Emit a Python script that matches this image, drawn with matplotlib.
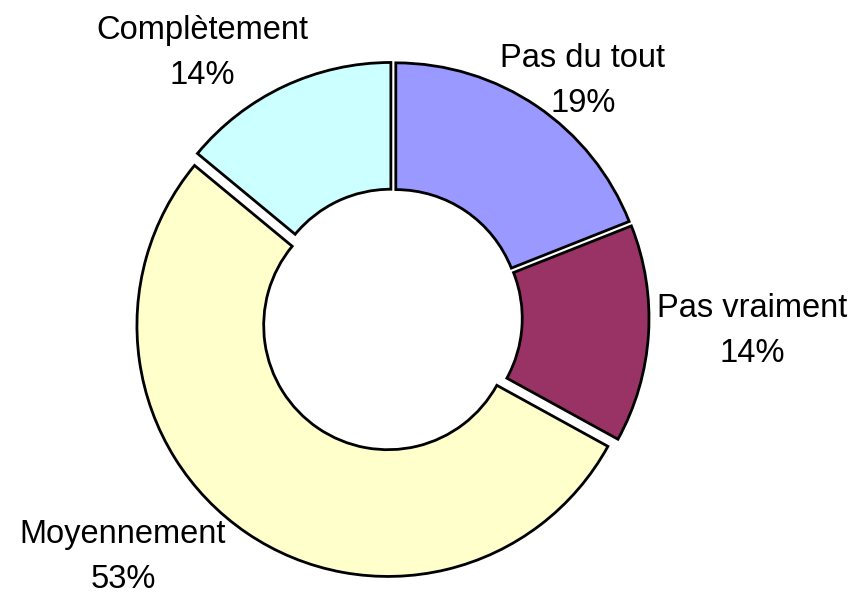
import matplotlib
matplotlib.use("Agg")
import matplotlib.pyplot as plt

# data
categories = ["Pas du tout", "Pas vraiment", "Moyennement", "Complètement"]
percents = [19, 14, 53, 14]
colors = ["#9999FF", "#993366", "#FFFFCC", "#CCFFFF"]

# layout (pixel units, y measured from top of image)
W, H = 857, 595
center = (393, H - 318)
radius = 251
explode = [5, 5, 9, 5]
label_pos = [(583, 112), (752, 362), (123, 588), (202, 84)]  # last line baselines

fig = plt.figure(figsize=(W / 100, H / 100), dpi=100)
ax = fig.add_axes([0, 0, 1, 1])

wedges, _ = ax.pie(percents, colors=colors, explode=explode, center=center,
                   radius=radius, startangle=90, counterclock=False,
                   wedgeprops=dict(width=radius * 0.505, edgecolor="black",
                                   linewidth=2.0))

for cat, p, (lx, ly) in zip(categories, percents, label_pos):
    ax.text(lx, H - ly, "%s\n%d%%" % (cat, p), ha="center", va="baseline",
            multialignment="center", fontsize=23.5, family="Liberation Sans",
            linespacing=1.6)

ax.set_xlim(0, W)
ax.set_ylim(0, H)
ax.set_aspect("equal")
ax.axis("off")

fig.savefig("out.png", dpi=100, facecolor="white")
